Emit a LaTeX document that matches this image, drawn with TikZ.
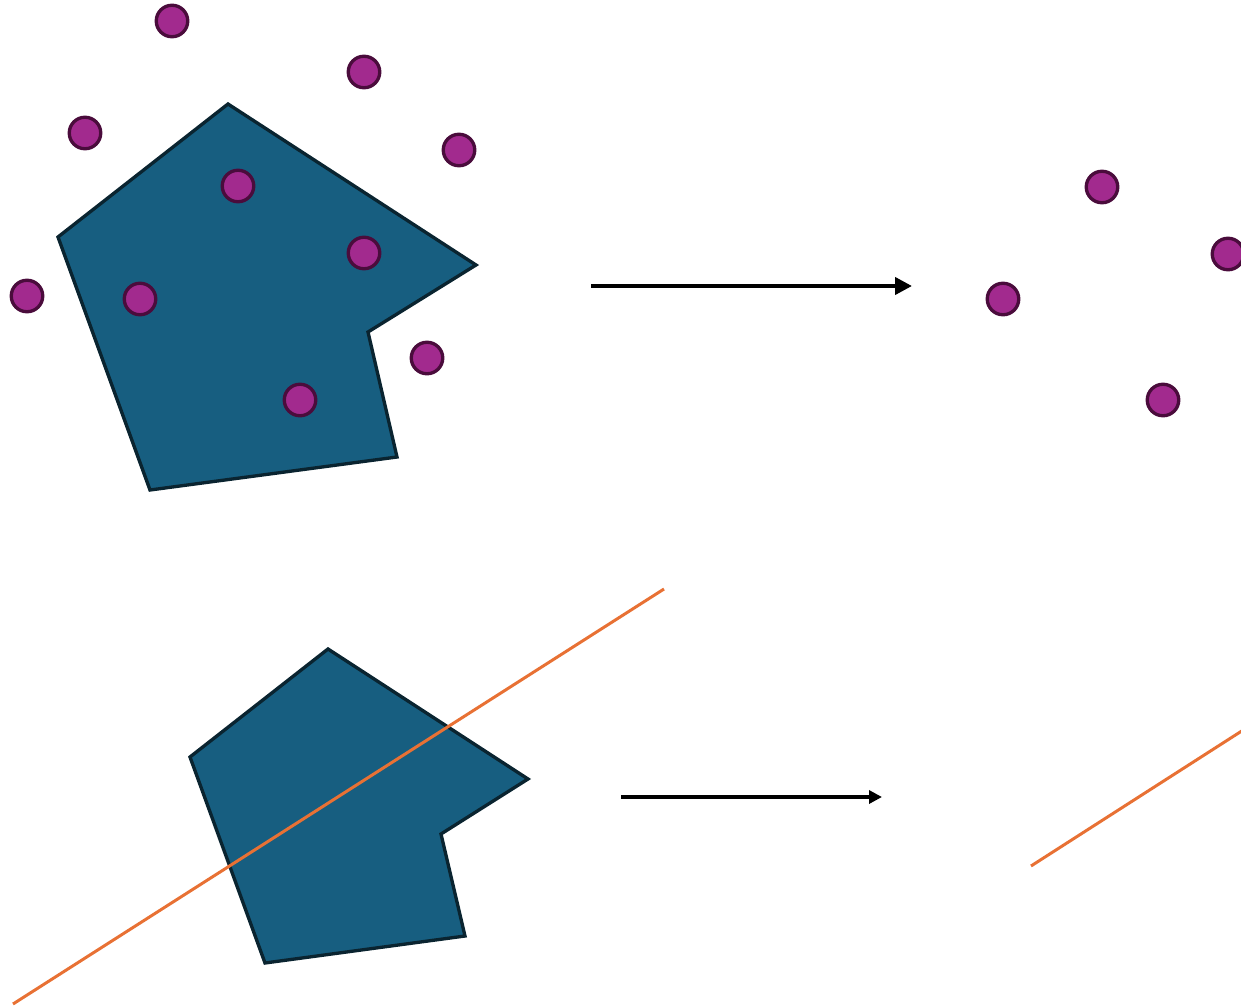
\documentclass[tikz,border=0pt]{standalone}
\usepackage{tikz}
\usetikzlibrary{arrows.meta}

\definecolor{polyblue}{RGB}{23,94,128}
\definecolor{polyedge}{RGB}{10,36,48}
\definecolor{dotfill}{RGB}{162,42,142}
\definecolor{dotedge}{RGB}{74,12,60}
\definecolor{cutorange}{RGB}{232,113,52}

\begin{document}
\begin{tikzpicture}[
                x=0.02cm, y=-0.02cm,           % 1 单位 = 1 像素
                dot/.style={
                    circle,
                    draw=dotedge,
                    fill=dotfill,
                    minimum size=0.63cm,
                    inner sep=0pt,
                    line width=1.9pt
                },
                region/.style={draw=polyedge, fill=polyblue, line width=1.9pt, line join=miter},
                cutline/.style={draw=cutorange, line width=1.7pt},
                arrow/.style={-{Triangle[length=0.34cm,width=0.34cm]}, line width=2.3pt},
                smallarrow/.style={-{Triangle[length=0.26cm,width=0.26cm]}, line width=1.9pt}
            ]
                \useasboundingbox (0,0) rectangle (1241,1007);
                \clip (0,0) rectangle (1241,1007);

                % 多边形
                \draw[region] (228,104) -- (476,265) -- (368,332) -- (397,457)
                    -- (150,490) -- (58,237) -- cycle;
                \draw[region] (328,649) -- (528,779) -- (441,834) -- (465,936)
                    -- (265,963) -- (190,757) -- cycle;

                % 点
                \node[dot] (p1) at (172,21) {};
                \node[dot] (p2) at (364,72) {};
                \node[dot] (p3) at (85,133) {};
                \node[dot] (p4) at (459,150) {};
                \node[dot] (p5) at (238,186) {};
                \node[dot] (p6) at (364,253) {};
                \node[dot] (p7) at (27,296) {};
                \node[dot] (p8) at (140,299) {};
                \node[dot] (p9) at (427,358) {};
                \node[dot] (p10) at (300,400) {};

                \node[dot] (q1) at (1102,187) {};
                \node[dot] (q2) at (1228,254) {};
                \node[dot] (q3) at (1003,299) {};
                \node[dot] (q4) at (1163,400) {};

                % 直线
                \coordinate (l1) at (13,1004);
                \coordinate (l2) at (664,589);
                \coordinate (m1) at (1031,866);
                \coordinate (m2) at (1262,718);
                \draw[cutline] (l1) -- (l2);
                \draw[cutline] (m1) -- (m2);

                % 箭头
                \coordinate (s1) at (591,286);
                \coordinate (t1) at (912,286);
                \coordinate (s2) at (621,797);
                \coordinate (t2) at (882,797);
                \draw[arrow] (s1) -- (t1);
                \draw[smallarrow] (s2) -- (t2);
            \end{tikzpicture}
\end{document}
